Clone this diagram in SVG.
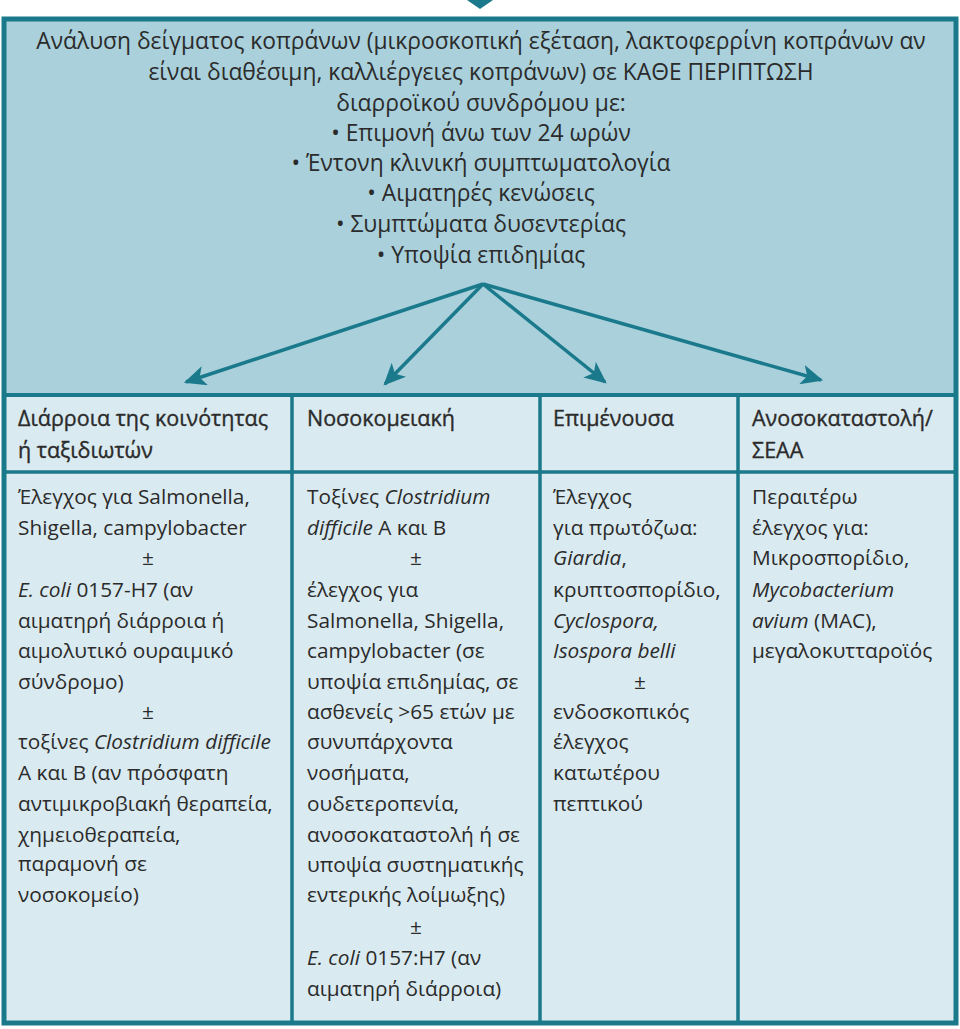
<svg xmlns="http://www.w3.org/2000/svg" width="960" height="1029" viewBox="0 0 960 1029">
<style>
text{font-family:"Open Sans","Noto Sans","DejaVu Sans",sans-serif;fill:#2b2b2b}
.t{font-size:22.8px;text-anchor:middle}
.h{font-size:21.5px;stroke:#2b2b2b;stroke-width:0.35}
.b{font-size:20.8px}
.c{text-anchor:middle}
.i{font-style:italic}
.ln{stroke:#1a7a8c;fill:none}
</style>
<defs>
<marker id="ah" viewBox="0 0 10 10" refX="9" refY="5" markerWidth="22" markerHeight="20" markerUnits="userSpaceOnUse" orient="auto" preserveAspectRatio="none">
<path d="M0,0 L10,5 L0,10 L2.5,5 Z" fill="#1a7a8c"/>
</marker>
</defs>
<rect width="960" height="1029" fill="#ffffff"/>
<polygon points="467,0 493,0 480,9" fill="#1a7a8c"/>
<g id="top">
<rect x="3" y="18" width="954" height="377" fill="#a9d0db"/>
<text class="t" x="481" y="49">Ανάλυση δείγματος κοπράνων (μικροσκοπική εξέταση, λακτοφερρίνη κοπράνων αν</text>
<text class="t" x="481" y="80">είναι διαθέσιμη, καλλιέργειες κοπράνων) σε ΚΑΘΕ ΠΕΡΙΠΤΩΣΗ</text>
<text class="t" x="481" y="111">διαρροϊκού συνδρόμου με:</text>
<text class="t" x="481" y="141">• Επιμονή άνω των 24 ωρών</text>
<text class="t" x="481" y="171">• Έντονη κλινική συμπτωματολογία</text>
<text class="t" x="481" y="201">• Αιματηρές κενώσεις</text>
<text class="t" x="481" y="232">• Συμπτώματα δυσεντερίας</text>
<text class="t" x="481" y="263">• Υποψία επιδημίας</text>
</g>
<g id="connectors" stroke="#1a7a8c" stroke-width="3.5" fill="none">
<line x1="483" y1="284" x2="186" y2="382" marker-end="url(#ah)"/>
<line x1="483" y1="284" x2="385" y2="384" marker-end="url(#ah)"/>
<line x1="483" y1="284" x2="605" y2="382" marker-end="url(#ah)"/>
<line x1="483" y1="284" x2="821" y2="380" marker-end="url(#ah)"/>
</g>
<g id="col1">
<rect x="3" y="395" width="289" height="77" fill="#d9eaf0"/>
<rect x="3" y="472" width="289" height="552" fill="#d9eaf0"/>
<text class="h" x="18" y="426">Διάρροια της κοινότητας</text>
<text class="h" x="18" y="458">ή ταξιδιωτών</text>
<text class="b" x="18" y="504">Έλεγχος για Salmonella,</text>
<text class="b" x="18" y="535">Shigella, campylobacter</text>
<text class="b c" x="148" y="565">±</text>
<text class="b" x="18" y="597"><tspan class="i">E. coli</tspan> 0157-H7 (αν</text>
<text class="b" x="18" y="628">αιματηρή διάρροια ή</text>
<text class="b" x="18" y="658">αιμολυτικό ουραιμικό</text>
<text class="b" x="18" y="689">σύνδρομο)</text>
<text class="b c" x="148" y="719">±</text>
<text class="b" x="18" y="749">τοξίνες <tspan class="i">Clostridium difficile</tspan></text>
<text class="b" x="18" y="780">Α και Β (αν πρόσφατη</text>
<text class="b" x="18" y="811">αντιμικροβιακή θεραπεία,</text>
<text class="b" x="18" y="842">χημειοθεραπεία,</text>
<text class="b" x="18" y="871">παραμονή σε</text>
<text class="b" x="18" y="902">νοσοκομείο)</text>
</g>
<g id="col2">
<rect x="292" y="395" width="248" height="77" fill="#d9eaf0"/>
<rect x="292" y="472" width="248" height="552" fill="#d9eaf0"/>
<text class="h" x="307" y="426">Νοσοκομειακή</text>
<text class="b" x="307" y="504">Τοξίνες <tspan class="i">Clostridium</tspan></text>
<text class="b" x="307" y="535"><tspan class="i">difficile</tspan> Α και Β</text>
<text class="b c" x="416" y="565">±</text>
<text class="b" x="307" y="597">έλεγχος για</text>
<text class="b" x="307" y="628">Salmonella, Shigella,</text>
<text class="b" x="307" y="658">campylobacter (σε</text>
<text class="b" x="307" y="689">υποψία επιδημίας, σε</text>
<text class="b" x="307" y="719">ασθενείς &gt;65 ετών με</text>
<text class="b" x="307" y="749">συνυπάρχοντα</text>
<text class="b" x="307" y="780">νοσήματα,</text>
<text class="b" x="307" y="811">ουδετεροπενία,</text>
<text class="b" x="307" y="842">ανοσοκαταστολή ή σε</text>
<text class="b" x="307" y="872">υποψία συστηματικής</text>
<text class="b" x="307" y="902">εντερικής λοίμωξης)</text>
<text class="b c" x="416" y="934">±</text>
<text class="b" x="307" y="965"><tspan class="i">E. coli</tspan> 0157:Η7 (αν</text>
<text class="b" x="307" y="996">αιματηρή διάρροια)</text>
</g>
<g id="col3">
<rect x="540" y="395" width="198" height="77" fill="#d9eaf0"/>
<rect x="540" y="472" width="198" height="552" fill="#d9eaf0"/>
<text class="h" x="553" y="426">Επιμένουσα</text>
<text class="b" x="553" y="504">Έλεγχος</text>
<text class="b" x="553" y="535">για πρωτόζωα:</text>
<text class="b" x="553" y="565"><tspan class="i">Giardia</tspan>,</text>
<text class="b" x="553" y="597">κρυπτοσπορίδιο,</text>
<text class="b i" x="553" y="628">Cyclospora,</text>
<text class="b i" x="553" y="658">Isospora belli</text>
<text class="b c" x="640" y="689">±</text>
<text class="b" x="553" y="719">ενδοσκοπικός</text>
<text class="b" x="553" y="749">έλεγχος</text>
<text class="b" x="553" y="780">κατωτέρου</text>
<text class="b" x="553" y="811">πεπτικού</text>
</g>
<g id="col4">
<rect x="738" y="395" width="219" height="77" fill="#d9eaf0"/>
<rect x="738" y="472" width="219" height="552" fill="#d9eaf0"/>
<text class="h" x="752" y="426">Ανοσοκαταστολή/</text>
<text class="h" x="752" y="458">ΣΕΑΑ</text>
<text class="b" x="752" y="504">Περαιτέρω</text>
<text class="b" x="752" y="535">έλεγχος για:</text>
<text class="b" x="752" y="565">Μικροσπορίδιο,</text>
<text class="b i" x="752" y="597">Mycobacterium</text>
<text class="b" x="752" y="628"><tspan class="i">avium</tspan> (MAC),</text>
<text class="b" x="752" y="658">μεγαλοκυτταροϊός</text>
</g>
<g id="grid">
<rect class="ln" x="4" y="19" width="952" height="1004" stroke-width="5"/>
<line class="ln" x1="3" y1="395" x2="957" y2="395" stroke-width="4"/>
<line class="ln" x1="3" y1="472" x2="957" y2="472" stroke-width="3.5"/>
<line class="ln" x1="292" y1="395" x2="292" y2="1024" stroke-width="3.5"/>
<line class="ln" x1="540" y1="395" x2="540" y2="1024" stroke-width="3.5"/>
<line class="ln" x1="738" y1="395" x2="738" y2="1024" stroke-width="3.5"/>
</g>
</svg>
